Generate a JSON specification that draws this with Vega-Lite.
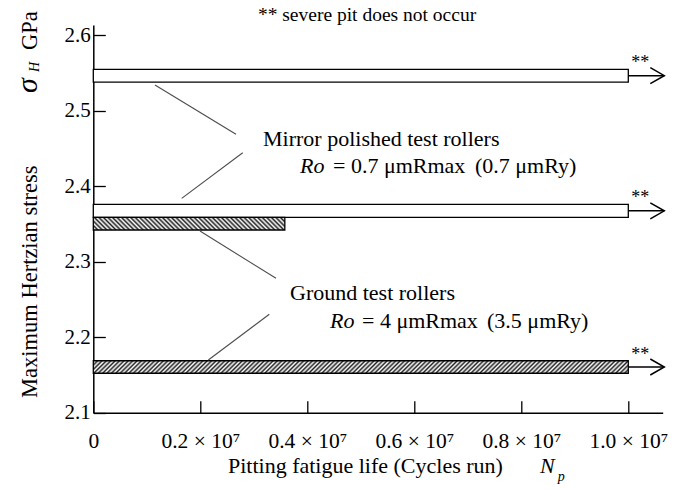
{
  "$schema": "https://vega.github.io/schema/vega-lite/v6.json",
  "width": 569.4,
  "height": 387.7,
  "autosize": {"type": "none"},
  "padding": {"left": 93.3, "top": 25, "right": 20.3, "bottom": 76.3},
  "background": "white",
  "config": {
    "view": {"stroke": null},
    "font": "Liberation Serif",
    "axis": {"grid": false, "domainColor": "black", "domainWidth": 1.5, "tickColor": "black", "tickWidth": 1.3, "labelColor": "black", "labelFont": "Liberation Serif", "labelFontSize": 21}
  },
  "datasets": {
    "bars": [
      {"surface": "Mirror polished", "life": 10000000, "lo": 2.5378, "hi": 2.5546},
      {"surface": "Mirror polished", "life": 10000000, "lo": 2.3587, "hi": 2.3759},
      {"surface": "Ground", "life": 3580000, "lo": 2.3419, "hi": 2.3587},
      {"surface": "Ground", "life": 10000000, "lo": 2.1522, "hi": 2.1688}
    ],
    "arrows": [
      {"mark_note": "**", "stress": 2.5462, "hi": 2.5546, "from": 10000000, "to": 10673000},
      {"mark_note": "**", "stress": 2.3673, "hi": 2.3759, "from": 10000000, "to": 10673000},
      {"mark_note": "**", "stress": 2.1605, "hi": 2.1688, "from": 10000000, "to": 10673000}
    ],
    "leaders": [
      {"x1": 1153000, "y1": 2.5338, "x2": 2667000, "y2": 2.4686},
      {"x1": 2793000, "y1": 2.4442, "x2": 1652000, "y2": 2.3838},
      {"x1": 1994000, "y1": 2.3405, "x2": 3415000, "y2": 2.2779},
      {"x1": 3290000, "y1": 2.2303, "x2": 2150000, "y2": 2.1698}
    ],
    "note": [
      {"text": "** severe pit does not occur", "life": 5116000, "stress": 2.6185}
    ],
    "labels": [
      {"text": "Mirror polished test rollers", "life": 3172000, "stress": 2.4531},
      {"text": "= 0.7 μmRmax", "life": 4480000, "stress": 2.4173},
      {"text": "(0.7 μmRy)", "life": 7134000, "stress": 2.4173},
      {"text": "Ground test rollers", "life": 3677000, "stress": 2.2492},
      {"text": "= 4 μmRmax", "life": 5022000, "stress": 2.2121},
      {"text": "(3.5 μmRy)", "life": 7359000, "stress": 2.2121},
      {"text": "Pitting fatigue life (Cycles run)", "life": 2517000, "stress": 2.0202}
    ],
    "italics": [
      {"text": "Ro", "life": 3864000, "stress": 2.4173},
      {"text": "Ro", "life": 4424000, "stress": 2.2121},
      {"text": "N", "life": 8349000, "stress": 2.0202}
    ],
    "subs": [
      {"text": "p", "life": 8680000, "stress": 2.0096}
    ],
    "vtitle": [
      {"text": "Maximum Hertzian stress", "life": -1052000, "stress": 2.1195},
      {"text": "GPa", "life": -1052000, "stress": 2.5801}
    ],
    "vsigma": [
      {"text": "σ", "life": -1052000, "stress": 2.5232}
    ],
    "vsub": [
      {"text": "H", "life": -1020000, "stress": 2.551}
    ]
  },
  "layer": [
    {
      "data": {"name": "bars"},
      "transform": [{"filter": "datum.surface == 'Mirror polished'"}],
      "mark": {"type": "rect", "stroke": "black", "strokeWidth": 1.3, "fill": "white"},
      "encoding": {
        "x": {"field": "life", "type": "quantitative", "scale": {"domain": [0, 10643000], "nice": false, "zero": false},
          "axis": {"values": [0, 2000000, 4000000, 6000000, 8000000, 10000000], "labelExpr": "datum.value == 0 ? '0' : format(datum.value / 10000000, '.1f') + ' × 10⁷'", "labelFontSize": 21.5, "tickSize": -12, "labelPadding": 30, "labelFlush": false, "labelOverlap": false, "title": null}},
        "x2": {"datum": 0},
        "y": {"field": "lo", "type": "quantitative", "scale": {"domain": [2.1, 2.6133], "nice": false, "zero": false},
          "axis": {"values": [2.1, 2.2, 2.3, 2.4, 2.5, 2.6], "format": ".1f", "tickSize": -12, "labelPadding": 15, "title": null}},
        "y2": {"field": "hi"}
      }
    },
    {
      "data": {"name": "bars"},
      "transform": [{"filter": "datum.surface == 'Ground' && datum.life < 5000000"}],
      "mark": {"type": "rect", "stroke": "black", "strokeWidth": 1.3,
        "fill": {"gradient": "linear", "x1": 0, "y1": 1, "x2": 1.0616, "y2": 0.9296, "stops": [
          {"offset": 0, "color": "#222"}, {"offset": 0.0111, "color": "#fff"}, {"offset": 0.0222, "color": "#222"}, {"offset": 0.0333, "color": "#fff"}, {"offset": 0.0444, "color": "#222"}, {"offset": 0.0556, "color": "#fff"}, {"offset": 0.0667, "color": "#222"}, {"offset": 0.0778, "color": "#fff"}, {"offset": 0.0889, "color": "#222"},
          {"offset": 0.1, "color": "#fff"}, {"offset": 0.1111, "color": "#222"}, {"offset": 0.1222, "color": "#fff"}, {"offset": 0.1333, "color": "#222"}, {"offset": 0.1444, "color": "#fff"}, {"offset": 0.1556, "color": "#222"}, {"offset": 0.1667, "color": "#fff"}, {"offset": 0.1778, "color": "#222"}, {"offset": 0.1889, "color": "#fff"},
          {"offset": 0.2, "color": "#222"}, {"offset": 0.2111, "color": "#fff"}, {"offset": 0.2222, "color": "#222"}, {"offset": 0.2333, "color": "#fff"}, {"offset": 0.2444, "color": "#222"}, {"offset": 0.2556, "color": "#fff"}, {"offset": 0.2667, "color": "#222"}, {"offset": 0.2778, "color": "#fff"}, {"offset": 0.2889, "color": "#222"},
          {"offset": 0.3, "color": "#fff"}, {"offset": 0.3111, "color": "#222"}, {"offset": 0.3222, "color": "#fff"}, {"offset": 0.3333, "color": "#222"}, {"offset": 0.3444, "color": "#fff"}, {"offset": 0.3556, "color": "#222"}, {"offset": 0.3667, "color": "#fff"}, {"offset": 0.3778, "color": "#222"}, {"offset": 0.3889, "color": "#fff"},
          {"offset": 0.4, "color": "#222"}, {"offset": 0.4111, "color": "#fff"}, {"offset": 0.4222, "color": "#222"}, {"offset": 0.4333, "color": "#fff"}, {"offset": 0.4444, "color": "#222"}, {"offset": 0.4556, "color": "#fff"}, {"offset": 0.4667, "color": "#222"}, {"offset": 0.4778, "color": "#fff"}, {"offset": 0.4889, "color": "#222"},
          {"offset": 0.5, "color": "#fff"}, {"offset": 0.5111, "color": "#222"}, {"offset": 0.5222, "color": "#fff"}, {"offset": 0.5333, "color": "#222"}, {"offset": 0.5444, "color": "#fff"}, {"offset": 0.5556, "color": "#222"}, {"offset": 0.5667, "color": "#fff"}, {"offset": 0.5778, "color": "#222"}, {"offset": 0.5889, "color": "#fff"},
          {"offset": 0.6, "color": "#222"}, {"offset": 0.6111, "color": "#fff"}, {"offset": 0.6222, "color": "#222"}, {"offset": 0.6333, "color": "#fff"}, {"offset": 0.6444, "color": "#222"}, {"offset": 0.6556, "color": "#fff"}, {"offset": 0.6667, "color": "#222"}, {"offset": 0.6778, "color": "#fff"}, {"offset": 0.6889, "color": "#222"},
          {"offset": 0.7, "color": "#fff"}, {"offset": 0.7111, "color": "#222"}, {"offset": 0.7222, "color": "#fff"}, {"offset": 0.7333, "color": "#222"}, {"offset": 0.7444, "color": "#fff"}, {"offset": 0.7556, "color": "#222"}, {"offset": 0.7667, "color": "#fff"}, {"offset": 0.7778, "color": "#222"}, {"offset": 0.7889, "color": "#fff"},
          {"offset": 0.8, "color": "#222"}, {"offset": 0.8111, "color": "#fff"}, {"offset": 0.8222, "color": "#222"}, {"offset": 0.8333, "color": "#fff"}, {"offset": 0.8444, "color": "#222"}, {"offset": 0.8556, "color": "#fff"}, {"offset": 0.8667, "color": "#222"}, {"offset": 0.8778, "color": "#fff"}, {"offset": 0.8889, "color": "#222"},
          {"offset": 0.9, "color": "#fff"}, {"offset": 0.9111, "color": "#222"}, {"offset": 0.9222, "color": "#fff"}, {"offset": 0.9333, "color": "#222"}, {"offset": 0.9444, "color": "#fff"}, {"offset": 0.9556, "color": "#222"}, {"offset": 0.9667, "color": "#fff"}, {"offset": 0.9778, "color": "#222"}, {"offset": 0.9889, "color": "#fff"},
          {"offset": 1, "color": "#222"}
        ]}},
      "encoding": {
        "x": {"field": "life", "type": "quantitative", "scale": {"domain": [0, 10643000], "nice": false, "zero": false}},
        "x2": {"datum": 0},
        "y": {"field": "lo", "type": "quantitative", "scale": {"domain": [2.1, 2.6133], "nice": false, "zero": false}},
        "y2": {"field": "hi"}
      }
    },
    {
      "data": {"name": "bars"},
      "transform": [{"filter": "datum.surface == 'Ground' && datum.life >= 5000000"}],
      "mark": {"type": "rect", "stroke": "black", "strokeWidth": 1.3,
        "fill": {"gradient": "linear", "x1": 0, "y1": 0, "x2": 1.024, "y2": 0.02417, "stops": [
          {"offset": 0, "color": "#222"}, {"offset": 0.004, "color": "#fff"}, {"offset": 0.008, "color": "#222"}, {"offset": 0.012, "color": "#fff"}, {"offset": 0.016, "color": "#222"}, {"offset": 0.02, "color": "#fff"}, {"offset": 0.024, "color": "#222"}, {"offset": 0.028, "color": "#fff"}, {"offset": 0.032, "color": "#222"}, {"offset": 0.036, "color": "#fff"},
          {"offset": 0.04, "color": "#222"}, {"offset": 0.044, "color": "#fff"}, {"offset": 0.048, "color": "#222"}, {"offset": 0.052, "color": "#fff"}, {"offset": 0.056, "color": "#222"}, {"offset": 0.06, "color": "#fff"}, {"offset": 0.064, "color": "#222"}, {"offset": 0.068, "color": "#fff"}, {"offset": 0.072, "color": "#222"}, {"offset": 0.076, "color": "#fff"},
          {"offset": 0.08, "color": "#222"}, {"offset": 0.084, "color": "#fff"}, {"offset": 0.088, "color": "#222"}, {"offset": 0.092, "color": "#fff"}, {"offset": 0.096, "color": "#222"}, {"offset": 0.1, "color": "#fff"}, {"offset": 0.104, "color": "#222"}, {"offset": 0.108, "color": "#fff"}, {"offset": 0.112, "color": "#222"}, {"offset": 0.116, "color": "#fff"},
          {"offset": 0.12, "color": "#222"}, {"offset": 0.124, "color": "#fff"}, {"offset": 0.128, "color": "#222"}, {"offset": 0.132, "color": "#fff"}, {"offset": 0.136, "color": "#222"}, {"offset": 0.14, "color": "#fff"}, {"offset": 0.144, "color": "#222"}, {"offset": 0.148, "color": "#fff"}, {"offset": 0.152, "color": "#222"}, {"offset": 0.156, "color": "#fff"},
          {"offset": 0.16, "color": "#222"}, {"offset": 0.164, "color": "#fff"}, {"offset": 0.168, "color": "#222"}, {"offset": 0.172, "color": "#fff"}, {"offset": 0.176, "color": "#222"}, {"offset": 0.18, "color": "#fff"}, {"offset": 0.184, "color": "#222"}, {"offset": 0.188, "color": "#fff"}, {"offset": 0.192, "color": "#222"}, {"offset": 0.196, "color": "#fff"},
          {"offset": 0.2, "color": "#222"}, {"offset": 0.204, "color": "#fff"}, {"offset": 0.208, "color": "#222"}, {"offset": 0.212, "color": "#fff"}, {"offset": 0.216, "color": "#222"}, {"offset": 0.22, "color": "#fff"}, {"offset": 0.224, "color": "#222"}, {"offset": 0.228, "color": "#fff"}, {"offset": 0.232, "color": "#222"}, {"offset": 0.236, "color": "#fff"},
          {"offset": 0.24, "color": "#222"}, {"offset": 0.244, "color": "#fff"}, {"offset": 0.248, "color": "#222"}, {"offset": 0.252, "color": "#fff"}, {"offset": 0.256, "color": "#222"}, {"offset": 0.26, "color": "#fff"}, {"offset": 0.264, "color": "#222"}, {"offset": 0.268, "color": "#fff"}, {"offset": 0.272, "color": "#222"}, {"offset": 0.276, "color": "#fff"},
          {"offset": 0.28, "color": "#222"}, {"offset": 0.284, "color": "#fff"}, {"offset": 0.288, "color": "#222"}, {"offset": 0.292, "color": "#fff"}, {"offset": 0.296, "color": "#222"}, {"offset": 0.3, "color": "#fff"}, {"offset": 0.304, "color": "#222"}, {"offset": 0.308, "color": "#fff"}, {"offset": 0.312, "color": "#222"}, {"offset": 0.316, "color": "#fff"},
          {"offset": 0.32, "color": "#222"}, {"offset": 0.324, "color": "#fff"}, {"offset": 0.328, "color": "#222"}, {"offset": 0.332, "color": "#fff"}, {"offset": 0.336, "color": "#222"}, {"offset": 0.34, "color": "#fff"}, {"offset": 0.344, "color": "#222"}, {"offset": 0.348, "color": "#fff"}, {"offset": 0.352, "color": "#222"}, {"offset": 0.356, "color": "#fff"},
          {"offset": 0.36, "color": "#222"}, {"offset": 0.364, "color": "#fff"}, {"offset": 0.368, "color": "#222"}, {"offset": 0.372, "color": "#fff"}, {"offset": 0.376, "color": "#222"}, {"offset": 0.38, "color": "#fff"}, {"offset": 0.384, "color": "#222"}, {"offset": 0.388, "color": "#fff"}, {"offset": 0.392, "color": "#222"}, {"offset": 0.396, "color": "#fff"},
          {"offset": 0.4, "color": "#222"}, {"offset": 0.404, "color": "#fff"}, {"offset": 0.408, "color": "#222"}, {"offset": 0.412, "color": "#fff"}, {"offset": 0.416, "color": "#222"}, {"offset": 0.42, "color": "#fff"}, {"offset": 0.424, "color": "#222"}, {"offset": 0.428, "color": "#fff"}, {"offset": 0.432, "color": "#222"}, {"offset": 0.436, "color": "#fff"},
          {"offset": 0.44, "color": "#222"}, {"offset": 0.444, "color": "#fff"}, {"offset": 0.448, "color": "#222"}, {"offset": 0.452, "color": "#fff"}, {"offset": 0.456, "color": "#222"}, {"offset": 0.46, "color": "#fff"}, {"offset": 0.464, "color": "#222"}, {"offset": 0.468, "color": "#fff"}, {"offset": 0.472, "color": "#222"}, {"offset": 0.476, "color": "#fff"},
          {"offset": 0.48, "color": "#222"}, {"offset": 0.484, "color": "#fff"}, {"offset": 0.488, "color": "#222"}, {"offset": 0.492, "color": "#fff"}, {"offset": 0.496, "color": "#222"}, {"offset": 0.5, "color": "#fff"}, {"offset": 0.504, "color": "#222"}, {"offset": 0.508, "color": "#fff"}, {"offset": 0.512, "color": "#222"}, {"offset": 0.516, "color": "#fff"},
          {"offset": 0.52, "color": "#222"}, {"offset": 0.524, "color": "#fff"}, {"offset": 0.528, "color": "#222"}, {"offset": 0.532, "color": "#fff"}, {"offset": 0.536, "color": "#222"}, {"offset": 0.54, "color": "#fff"}, {"offset": 0.544, "color": "#222"}, {"offset": 0.548, "color": "#fff"}, {"offset": 0.552, "color": "#222"}, {"offset": 0.556, "color": "#fff"},
          {"offset": 0.56, "color": "#222"}, {"offset": 0.564, "color": "#fff"}, {"offset": 0.568, "color": "#222"}, {"offset": 0.572, "color": "#fff"}, {"offset": 0.576, "color": "#222"}, {"offset": 0.58, "color": "#fff"}, {"offset": 0.584, "color": "#222"}, {"offset": 0.588, "color": "#fff"}, {"offset": 0.592, "color": "#222"}, {"offset": 0.596, "color": "#fff"},
          {"offset": 0.6, "color": "#222"}, {"offset": 0.604, "color": "#fff"}, {"offset": 0.608, "color": "#222"}, {"offset": 0.612, "color": "#fff"}, {"offset": 0.616, "color": "#222"}, {"offset": 0.62, "color": "#fff"}, {"offset": 0.624, "color": "#222"}, {"offset": 0.628, "color": "#fff"}, {"offset": 0.632, "color": "#222"}, {"offset": 0.636, "color": "#fff"},
          {"offset": 0.64, "color": "#222"}, {"offset": 0.644, "color": "#fff"}, {"offset": 0.648, "color": "#222"}, {"offset": 0.652, "color": "#fff"}, {"offset": 0.656, "color": "#222"}, {"offset": 0.66, "color": "#fff"}, {"offset": 0.664, "color": "#222"}, {"offset": 0.668, "color": "#fff"}, {"offset": 0.672, "color": "#222"}, {"offset": 0.676, "color": "#fff"},
          {"offset": 0.68, "color": "#222"}, {"offset": 0.684, "color": "#fff"}, {"offset": 0.688, "color": "#222"}, {"offset": 0.692, "color": "#fff"}, {"offset": 0.696, "color": "#222"}, {"offset": 0.7, "color": "#fff"}, {"offset": 0.704, "color": "#222"}, {"offset": 0.708, "color": "#fff"}, {"offset": 0.712, "color": "#222"}, {"offset": 0.716, "color": "#fff"},
          {"offset": 0.72, "color": "#222"}, {"offset": 0.724, "color": "#fff"}, {"offset": 0.728, "color": "#222"}, {"offset": 0.732, "color": "#fff"}, {"offset": 0.736, "color": "#222"}, {"offset": 0.74, "color": "#fff"}, {"offset": 0.744, "color": "#222"}, {"offset": 0.748, "color": "#fff"}, {"offset": 0.752, "color": "#222"}, {"offset": 0.756, "color": "#fff"},
          {"offset": 0.76, "color": "#222"}, {"offset": 0.764, "color": "#fff"}, {"offset": 0.768, "color": "#222"}, {"offset": 0.772, "color": "#fff"}, {"offset": 0.776, "color": "#222"}, {"offset": 0.78, "color": "#fff"}, {"offset": 0.784, "color": "#222"}, {"offset": 0.788, "color": "#fff"}, {"offset": 0.792, "color": "#222"}, {"offset": 0.796, "color": "#fff"},
          {"offset": 0.8, "color": "#222"}, {"offset": 0.804, "color": "#fff"}, {"offset": 0.808, "color": "#222"}, {"offset": 0.812, "color": "#fff"}, {"offset": 0.816, "color": "#222"}, {"offset": 0.82, "color": "#fff"}, {"offset": 0.824, "color": "#222"}, {"offset": 0.828, "color": "#fff"}, {"offset": 0.832, "color": "#222"}, {"offset": 0.836, "color": "#fff"},
          {"offset": 0.84, "color": "#222"}, {"offset": 0.844, "color": "#fff"}, {"offset": 0.848, "color": "#222"}, {"offset": 0.852, "color": "#fff"}, {"offset": 0.856, "color": "#222"}, {"offset": 0.86, "color": "#fff"}, {"offset": 0.864, "color": "#222"}, {"offset": 0.868, "color": "#fff"}, {"offset": 0.872, "color": "#222"}, {"offset": 0.876, "color": "#fff"},
          {"offset": 0.88, "color": "#222"}, {"offset": 0.884, "color": "#fff"}, {"offset": 0.888, "color": "#222"}, {"offset": 0.892, "color": "#fff"}, {"offset": 0.896, "color": "#222"}, {"offset": 0.9, "color": "#fff"}, {"offset": 0.904, "color": "#222"}, {"offset": 0.908, "color": "#fff"}, {"offset": 0.912, "color": "#222"}, {"offset": 0.916, "color": "#fff"},
          {"offset": 0.92, "color": "#222"}, {"offset": 0.924, "color": "#fff"}, {"offset": 0.928, "color": "#222"}, {"offset": 0.932, "color": "#fff"}, {"offset": 0.936, "color": "#222"}, {"offset": 0.94, "color": "#fff"}, {"offset": 0.944, "color": "#222"}, {"offset": 0.948, "color": "#fff"}, {"offset": 0.952, "color": "#222"}, {"offset": 0.956, "color": "#fff"},
          {"offset": 0.96, "color": "#222"}, {"offset": 0.964, "color": "#fff"}, {"offset": 0.968, "color": "#222"}, {"offset": 0.972, "color": "#fff"}, {"offset": 0.976, "color": "#222"}, {"offset": 0.98, "color": "#fff"}, {"offset": 0.984, "color": "#222"}, {"offset": 0.988, "color": "#fff"}, {"offset": 0.992, "color": "#222"}, {"offset": 0.996, "color": "#fff"},
          {"offset": 1, "color": "#222"}
        ]}},
      "encoding": {
        "x": {"field": "life", "type": "quantitative", "scale": {"domain": [0, 10643000], "nice": false, "zero": false}},
        "x2": {"datum": 0},
        "y": {"field": "lo", "type": "quantitative", "scale": {"domain": [2.1, 2.6133], "nice": false, "zero": false}},
        "y2": {"field": "hi"}
      }
    },
    {
      "data": {"name": "leaders"},
      "mark": {"type": "rule", "color": "#4d4d4d", "strokeWidth": 1.1},
      "encoding": {
        "x": {"field": "x1", "type": "quantitative", "scale": {"domain": [0, 10643000], "nice": false, "zero": false}},
        "x2": {"field": "x2"},
        "y": {"field": "y1", "type": "quantitative", "scale": {"domain": [2.1, 2.6133], "nice": false, "zero": false}},
        "y2": {"field": "y2"}
      }
    },
    {
      "data": {"name": "arrows"},
      "mark": {"type": "rule", "color": "black", "strokeWidth": 1.5},
      "encoding": {
        "x": {"field": "from", "type": "quantitative", "scale": {"domain": [0, 10643000], "nice": false, "zero": false}},
        "x2": {"field": "to"},
        "y": {"field": "stress", "type": "quantitative", "scale": {"domain": [2.1, 2.6133], "nice": false, "zero": false}}
      }
    },
    {
      "data": {"name": "arrows"},
      "mark": {"type": "point", "shape": "M-1.75,-1L0,0L-1.75,1", "size": 256, "filled": false, "stroke": "black", "strokeWidth": 1.5, "opacity": 1},
      "encoding": {
        "x": {"field": "to", "type": "quantitative", "scale": {"domain": [0, 10643000], "nice": false, "zero": false}},
        "y": {"field": "stress", "type": "quantitative", "scale": {"domain": [2.1, 2.6133], "nice": false, "zero": false}}
      }
    },
    {
      "data": {"name": "arrows"},
      "mark": {"type": "text", "align": "left", "baseline": "alphabetic", "dx": 3, "dy": -1, "fontSize": 18, "color": "black"},
      "encoding": {
        "text": {"field": "mark_note"},
        "x": {"field": "from", "type": "quantitative", "scale": {"domain": [0, 10643000], "nice": false, "zero": false}},
        "y": {"field": "hi", "type": "quantitative", "scale": {"domain": [2.1, 2.6133], "nice": false, "zero": false}}
      }
    },
    {
      "data": {"name": "note"},
      "mark": {"type": "text", "align": "center", "baseline": "alphabetic", "fontSize": 19.5, "color": "black"},
      "encoding": {
        "text": {"field": "text"},
        "x": {"field": "life", "type": "quantitative", "scale": {"domain": [0, 10643000], "nice": false, "zero": false}},
        "y": {"field": "stress", "type": "quantitative", "scale": {"domain": [2.1, 2.6133], "nice": false, "zero": false}}
      }
    },
    {
      "data": {"name": "labels"},
      "mark": {"type": "text", "align": "left", "baseline": "alphabetic", "fontSize": 22, "color": "black"},
      "encoding": {
        "text": {"field": "text"},
        "x": {"field": "life", "type": "quantitative", "scale": {"domain": [0, 10643000], "nice": false, "zero": false}},
        "y": {"field": "stress", "type": "quantitative", "scale": {"domain": [2.1, 2.6133], "nice": false, "zero": false}}
      }
    },
    {
      "data": {"name": "italics"},
      "mark": {"type": "text", "align": "left", "baseline": "alphabetic", "fontSize": 22, "fontStyle": "italic", "color": "black"},
      "encoding": {
        "text": {"field": "text"},
        "x": {"field": "life", "type": "quantitative", "scale": {"domain": [0, 10643000], "nice": false, "zero": false}},
        "y": {"field": "stress", "type": "quantitative", "scale": {"domain": [2.1, 2.6133], "nice": false, "zero": false}}
      }
    },
    {
      "data": {"name": "subs"},
      "mark": {"type": "text", "align": "left", "baseline": "alphabetic", "fontSize": 14, "fontStyle": "italic", "color": "black"},
      "encoding": {
        "text": {"field": "text"},
        "x": {"field": "life", "type": "quantitative", "scale": {"domain": [0, 10643000], "nice": false, "zero": false}},
        "y": {"field": "stress", "type": "quantitative", "scale": {"domain": [2.1, 2.6133], "nice": false, "zero": false}}
      }
    },
    {
      "data": {"name": "vtitle"},
      "mark": {"type": "text", "align": "left", "baseline": "alphabetic", "angle": 270, "fontSize": 22.5, "color": "black"},
      "encoding": {
        "text": {"field": "text"},
        "x": {"field": "life", "type": "quantitative", "scale": {"domain": [0, 10643000], "nice": false, "zero": false}},
        "y": {"field": "stress", "type": "quantitative", "scale": {"domain": [2.1, 2.6133], "nice": false, "zero": false}}
      }
    },
    {
      "data": {"name": "vsigma"},
      "mark": {"type": "text", "align": "left", "baseline": "alphabetic", "angle": 270, "fontSize": 30, "fontStyle": "italic", "color": "black"},
      "encoding": {
        "text": {"field": "text"},
        "x": {"field": "life", "type": "quantitative", "scale": {"domain": [0, 10643000], "nice": false, "zero": false}},
        "y": {"field": "stress", "type": "quantitative", "scale": {"domain": [2.1, 2.6133], "nice": false, "zero": false}}
      }
    },
    {
      "data": {"name": "vsub"},
      "mark": {"type": "text", "align": "left", "baseline": "alphabetic", "angle": 270, "fontSize": 14, "fontStyle": "italic", "color": "black"},
      "encoding": {
        "text": {"field": "text"},
        "x": {"field": "life", "type": "quantitative", "scale": {"domain": [0, 10643000], "nice": false, "zero": false}},
        "y": {"field": "stress", "type": "quantitative", "scale": {"domain": [2.1, 2.6133], "nice": false, "zero": false}}
      }
    }
  ]
}
